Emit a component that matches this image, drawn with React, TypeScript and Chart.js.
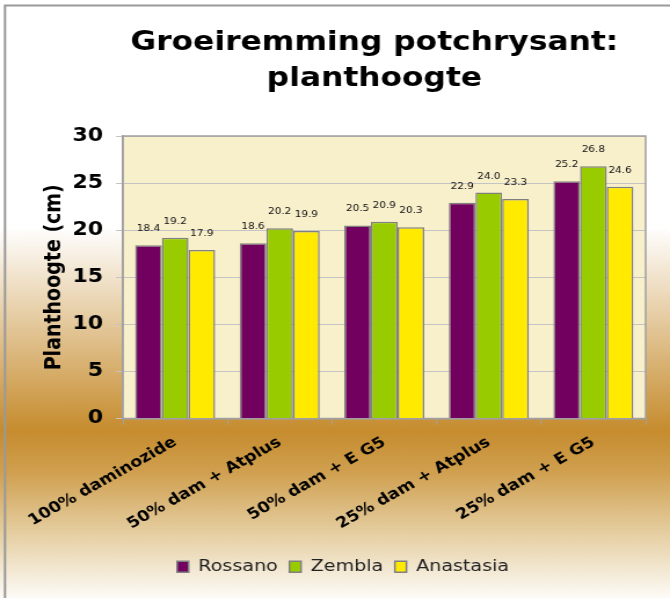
import React, { useEffect, useRef } from 'react';
import { Chart, registerables } from 'chart.js';

Chart.register(...registerables);

const categories = ['100% daminozide', '50% dam + Atplus', '50% dam + E G5', '25% dam + Atplus', '25% dam + E G5'];
const seriesNames = ['Rossano', 'Zembla', 'Anastasia'];
const rossano = [18.4, 18.6, 20.5, 22.9, 25.2];
const zembla = [19.2, 20.2, 20.9, 24.0, 26.8];
const anastasia = [17.9, 19.9, 20.3, 23.3, 24.6];
const seriesColors = ['#72005f', '#99cc00', '#ffea00'];
const titleLines = ['Groeiremming potchrysant:', 'planthoogte'];
const yTitle = 'Planthoogte (cm)';
const yMin = 0;
const yMax = 30;
const yStep = 5;

// internal canvas size (stretched horizontally to 670 css px like the reference)
const W = 578;
const H = 598;

const backgroundPlugin = {
  id: 'bgPlugin',
  beforeDraw(chart: any) {
    const { ctx, chartArea } = chart;
    ctx.save();
    const g = ctx.createLinearGradient(0, 0, 0, H);
    g.addColorStop(0, '#ffffff');
    g.addColorStop(0.38, '#ffffff');
    g.addColorStop(0.72, '#c68c2e');
    g.addColorStop(0.79, '#d0a050');
    g.addColorStop(0.9, '#e7d2a8');
    g.addColorStop(1, '#fdfbf7');
    ctx.fillStyle = g;
    ctx.fillRect(0, 0, W, H);
    // outer border (top & left visible)
    ctx.strokeStyle = '#9a9a9a';
    ctx.lineWidth = 2;
    ctx.beginPath();
    ctx.moveTo(4.3, H);
    ctx.lineTo(4.3, 5.5);
    ctx.lineTo(W, 5.5);
    ctx.stroke();
    // plot area fill
    ctx.fillStyle = '#f8efcb';
    ctx.fillRect(chartArea.left, chartArea.top, chartArea.right - chartArea.left, chartArea.bottom - chartArea.top);
    // title
    ctx.fillStyle = '#000';
    ctx.font = 'bold 27px "DejaVu Sans"';
    ctx.textAlign = 'center';
    ctx.textBaseline = 'middle';
    ctx.fillText(titleLines[0], 323, 43);
    ctx.fillText(titleLines[1], 323, 79);
    ctx.restore();
  },
  beforeDatasetsDraw(chart: any) {
    const { ctx, chartArea } = chart;
    ctx.save();
    ctx.strokeStyle = '#a0a0a0';
    ctx.lineWidth = 1.5;
    ctx.strokeRect(chartArea.left, chartArea.top, chartArea.right - chartArea.left, chartArea.bottom - chartArea.top);
    ctx.restore();
  },
  afterDatasetsDraw(chart: any) {
    const { ctx } = chart;
    ctx.save();
    ctx.fillStyle = '#111';
    ctx.font = '9px "DejaVu Sans"';
    ctx.textAlign = 'center';
    ctx.textBaseline = 'alphabetic';
    chart.data.datasets.forEach((ds: any, i: number) => {
      const meta = chart.getDatasetMeta(i);
      meta.data.forEach((bar: any, j: number) => {
        ctx.fillText(Number(ds.data[j]).toFixed(1), bar.x, bar.y - 14);
      });
    });
    ctx.restore();
  },
};

export default function App() {
  const ref = useRef<HTMLCanvasElement>(null);
  useEffect(() => {
    const values = [rossano, zembla, anastasia];
    const chart = new Chart(ref.current as HTMLCanvasElement, {
      type: 'bar',
      data: {
        labels: categories,
        datasets: seriesNames.map((name, i) => ({
          label: name,
          data: values[i],
          backgroundColor: seriesColors[i],
          borderColor: '#808080',
          borderWidth: 1.5,
          categoryPercentage: 0.765,
          barPercentage: 1.0,
        })),
      },
      options: {
        responsive: false,
        animation: false,
        devicePixelRatio: 1,
        layout: { padding: { left: 35, right: 21, top: 136, bottom: 13 } },
        plugins: {
          title: { display: false },
          tooltip: { enabled: false },
          legend: {
            position: 'bottom',
            labels: {
              font: { family: 'DejaVu Sans', size: 16.5 },
              color: '#222',
              boxWidth: 10,
              boxHeight: 11,
              padding: 10,
            },
          },
        },
        scales: {
          x: {
            grid: { drawOnChartArea: false, drawTicks: true, tickLength: 6, color: '#a0a0a0', offset: true },
            border: { color: '#a0a0a0', width: 1.5 },
            ticks: {
              font: { family: 'DejaVu Sans', weight: 'bold', size: 15 },
              color: '#000',
              minRotation: 33,
              maxRotation: 33,
              autoSkip: false,
              padding: 9,
            },
            afterFit: (s: any) => {
              s.height = 130;
            },
          },
          y: {
            min: yMin,
            max: yMax,
            ticks: {
              stepSize: yStep,
              font: { family: 'DejaVu Sans', weight: 'bold', size: 19 },
              color: '#000',
              padding: 11,
            },
            grid: { color: '#c4c4c4', tickLength: 6 },
            border: { color: '#a0a0a0', width: 1.5 },
            title: {
              display: true,
              text: yTitle,
              font: { family: 'DejaVu Sans', weight: 'bold', size: 19 },
              color: '#000',
              padding: { top: 1, bottom: 0 },
            },
            afterFit: (s: any) => {
              s.width = 71;
            },
          },
        },
      } as any,
      plugins: [backgroundPlugin],
    });
    return () => chart.destroy();
  }, []);
  return (
    <div style={{ position: 'absolute', left: 0, top: 0, width: 670, height: 598 }}>
      <canvas ref={ref} width={W} height={H} style={{ width: '670px', height: '598px', display: 'block' }} />
    </div>
  );
}
